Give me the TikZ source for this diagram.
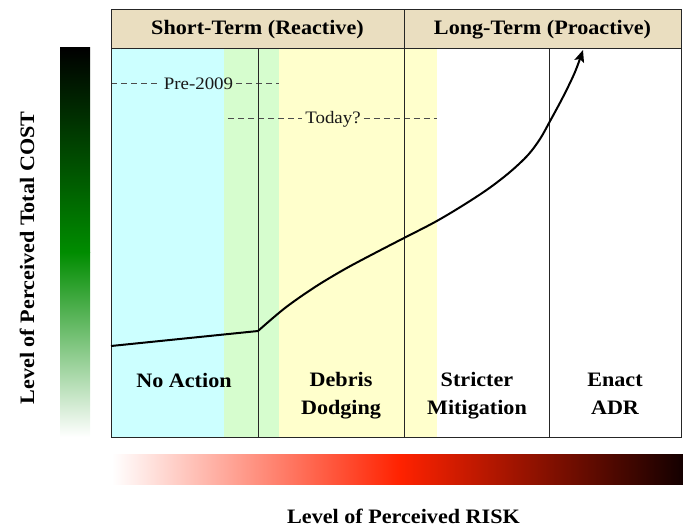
\documentclass[tikz,border=0pt]{standalone}
\usepackage{fontspec}
\setmainfont{Liberation Serif}[FakeStretch=1.08]
\usetikzlibrary{arrows.meta}
\definecolor{headtan}{RGB}{234,222,192}
\definecolor{bgcyan}{RGB}{204,255,255}
\definecolor{bggreen}{RGB}{214,253,206}
\definecolor{bgyellow}{RGB}{255,255,204}
\definecolor{costgreen}{RGB}{0,140,0}
\definecolor{riskred}{RGB}{255,34,0}
\definecolor{riskdark}{RGB}{20,0,0}
\tikzset{
  frame/.style={draw=black!85, line width=1pt},
  headtext/.style={font=\fontsize{20.5}{22}\selectfont\bfseries, anchor=base, inner sep=0pt},
  zonetext/.style={font=\fontsize{20.5}{28}\selectfont\bfseries, align=center},
  eratext/.style={font=\fontsize{17.5}{19}\selectfont, text=black!90, anchor=base, inner xsep=3pt, inner ysep=0pt},
  eraline/.style={draw=black!70, line width=0.7pt, dash pattern=on 6pt off 4pt},
  axistext/.style={font=\fontsize{20.5}{22}\selectfont\bfseries},
  costcurve/.style={draw=black, line width=2pt, line join=round},
}
\begin{document}
\begin{tikzpicture}[x=1pt,y=-1pt]
\useasboundingbox (0,0) rectangle (683,527);
% background zones
\fill[bgcyan] (111,49) rectangle (224,437);
\fill[bggreen] (224,49) rectangle (279,437);
\fill[bgyellow] (279,49) rectangle (437,437);
% header
\fill[headtan] (111,10) rectangle (681,49);
\node[headtext] (hshort) at (257.5,35) {Short-Term (Reactive)};
\node[headtext] (hlong) at (542.5,35) {Long-Term (Proactive)};
% era dashed lines
\node[eratext] (pre) at (198.5,89) {Pre-2009};
\coordinate (preL) at (111,83);
\coordinate (preR) at (279,83);
\draw[eraline] (preL) -- (preL -| pre.west);
\draw[eraline] (preR -| pre.east) -- (preR);
\node[eratext] (today) at (333,123) {Today?};
\coordinate (todL) at (228,118);
\coordinate (todR) at (437,118);
\draw[eraline] (todL) -- (todL -| today.west);
\draw[eraline] (todR -| today.east) -- (todR);
% frame and dividers
\draw[frame] (111,10) rectangle (681,437);
\draw[frame] (111,49) -- (681,49);
\draw[frame] (404,10) -- (404,437);
\draw[frame] (258,49) -- (258,437);
\draw[frame] (549,49) -- (549,437);
% zone labels
\node[zonetext, anchor=base] (z1) at (184,387) {No Action};
\node[zonetext] (z2) at (341,395.5) {Debris\\Dodging};
\node[zonetext] (z3) at (477,395.5) {Stricter\\Mitigation};
\node[zonetext] (z4) at (615,393.5) {Enact\\ADR};
% cost curve
\coordinate (c0) at (111,346);
\coordinate (c1) at (258,331);
\draw[costcurve] (c0) -- (c1);
\draw[costcurve, -{Stealth[length=12pt,width=10pt,inset=2.5pt]}] plot[smooth, tension=0.55] coordinates {(258,331) (285,308) (315,287) (345,269) (375,253) (404,238) (435,222) (462,206) (488,189) (510,172) (528,155) (540,139) (549,123) (563,97) (575,72) (583,50)};
% cost gradient bar
\shade[top color=black, bottom color=costgreen] (60,48) rectangle (90,252);
\shade[top color=costgreen, bottom color=white] (60,252) rectangle (90,437);
\node[axistext, rotate=90] (costlbl) at (27,258) {Level of Perceived Total COST};
% risk gradient bar
\shade[left color=white, right color=riskred] (112,454) rectangle (400,484);
\shade[left color=riskred, right color=riskdark] (400,454) rectangle (683,484);
\node[axistext, anchor=base] (risklbl) at (403.5,523) {Level of Perceived RISK};
\end{tikzpicture}
\end{document}
